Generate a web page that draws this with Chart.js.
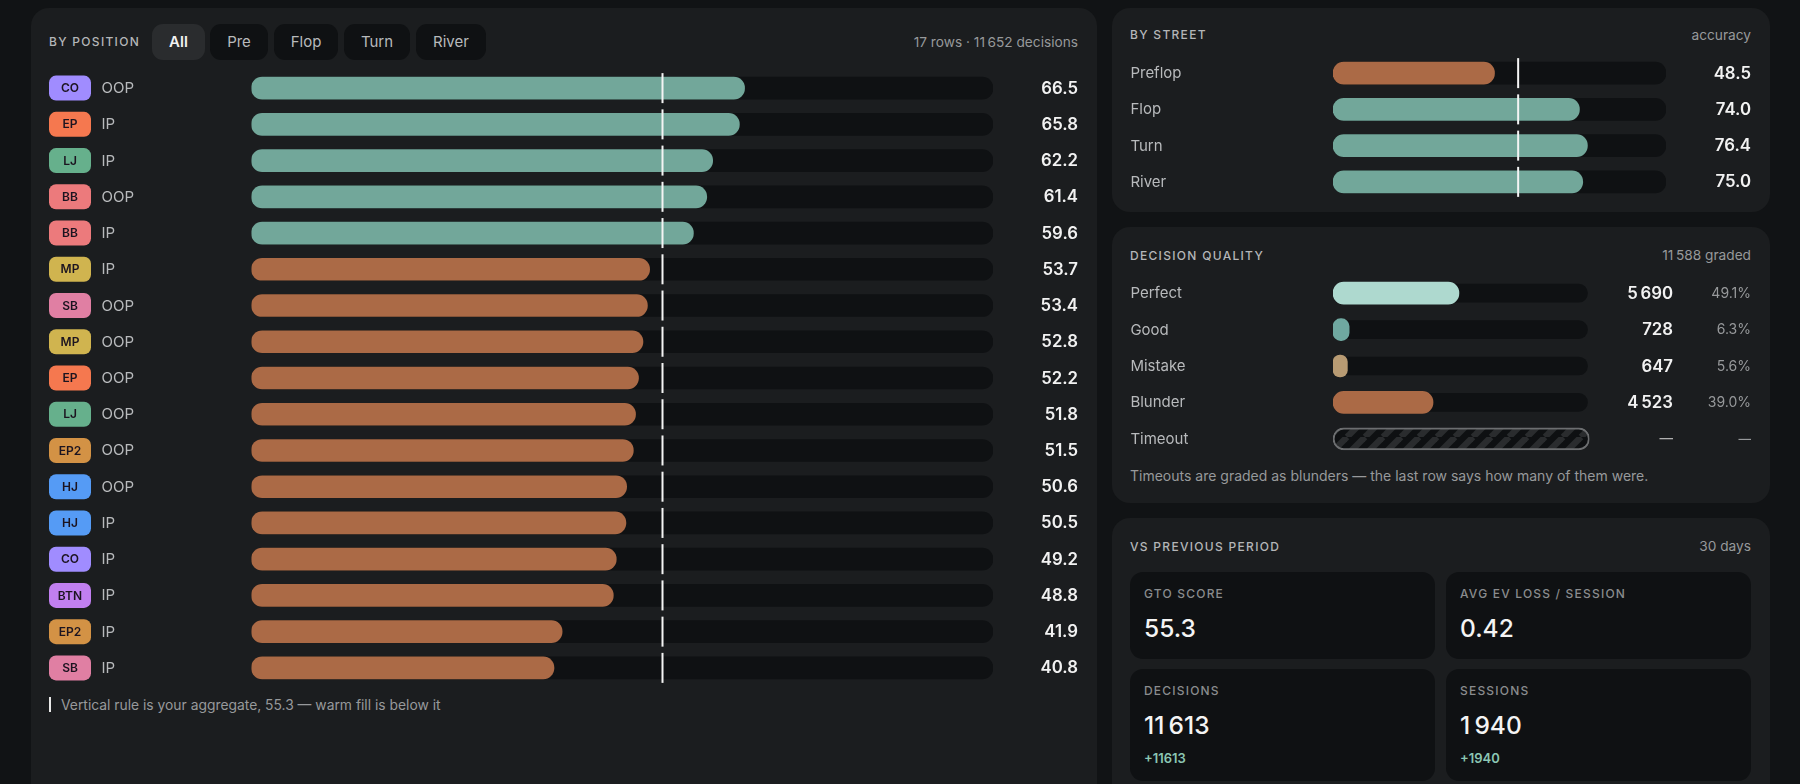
<!DOCTYPE html>
<html>
<head>
<meta charset="utf-8">
<script src="https://cdn.jsdelivr.net/npm/chart.js@4"></script>
<style>
  * { box-sizing: border-box; }
  html, body { margin: 0; width: 1800px; height: 784px; overflow: hidden; background: #111315; font-family: Inter, sans-serif; color: #e8e8e8; }
  .abs { position: absolute; white-space: nowrap; }
  .panel { position: absolute; background: #1b1d1f; border-radius: 18px; }
  .title { font-size: 12px; font-weight: 500; letter-spacing: 1.3px; color: #b4b6b8; line-height: 16px; }
  .meta { font-size: 13.7px; color: #97999b; line-height: 16px; text-align: right; }
  .chip { position: absolute; top: 24px; height: 36px; border-radius: 11px; background: #0f1113; color: #b8babc; font-size: 15px; font-weight: 400; line-height: 36px; text-align: center; }
  .chip.on { background: #2a2c2e; color: #f2f2f2; font-weight: 600; }
  .note { font-size: 13.85px; color: #97999b; line-height: 18px; }
  .card { position: absolute; background: #0f1113; border-radius: 13px; }
  .card .lbl { position: absolute; left: 14px; font-size: 12px; font-weight: 500; letter-spacing: 1.2px; color: #8a8c8e; line-height: 16px; white-space: nowrap; }
  .card .val { position: absolute; left: 14px; font-size: 24.5px; font-weight: 500; color: #f4f4f4; line-height: 32px; white-space: nowrap; }
  .card .delta { position: absolute; left: 14px; font-size: 13px; font-weight: 600; color: #8cc7b4; line-height: 16px; }
  canvas { position: absolute; }
</style>
</head>
<body>
<div class="panel" style="left:31px;top:8px;width:1066px;height:800px"></div>
<div class="panel" style="left:1112px;top:8px;width:658px;height:204px"></div>
<div class="panel" style="left:1112px;top:227px;width:658px;height:276px"></div>
<div class="panel" style="left:1112px;top:518px;width:658px;height:300px"></div>

<div class="abs title" style="left:49px;top:34px">BY POSITION</div>
<div id="chips"></div>
<div class="abs meta" style="right:722px;top:34px">17 rows · 11&#8239;652 decisions</div>
<canvas id="position-chart" style="left:31px;top:70px" width="1066" height="616"></canvas>
<div class="abs" style="left:49px;top:697px;width:2px;height:15px;background:#e8e8e8"></div>
<div class="abs note" style="left:61px;top:696px">Vertical rule is your aggregate, 55.3 — warm fill is below it</div>

<div class="abs title" style="left:1130px;top:27px">BY STREET</div>
<div class="abs meta" style="right:49px;top:27px">accuracy</div>
<canvas id="street-chart" style="left:1113px;top:55px" width="657" height="145"></canvas>

<div class="abs title" style="left:1130px;top:248px">DECISION QUALITY</div>
<div class="abs meta" style="right:49px;top:247px">11&#8239;588 graded</div>
<canvas id="quality-chart" style="left:1113px;top:275px" width="657" height="182"></canvas>
<div class="abs note" style="left:1130px;top:467px;font-size:14px">Timeouts are graded as blunders — the last row says how many of them were.</div>

<div class="abs title" style="left:1130px;top:539px">VS PREVIOUS PERIOD</div>
<div class="abs meta" style="right:49px;top:538px">30 days</div>
<div id="cards"></div>

<script>
const chipLabels = ['All', 'Pre', 'Flop', 'Turn', 'River'];

const positions = ['CO', 'EP', 'LJ', 'BB', 'BB', 'MP', 'SB', 'MP', 'EP', 'LJ', 'EP2', 'HJ', 'HJ', 'CO', 'BTN', 'EP2', 'SB'];
const sides = ['OOP', 'IP', 'IP', 'OOP', 'IP', 'IP', 'OOP', 'OOP', 'OOP', 'OOP', 'OOP', 'OOP', 'IP', 'IP', 'IP', 'IP', 'IP'];
const positionScores = [66.5, 65.8, 62.2, 61.4, 59.6, 53.7, 53.4, 52.8, 52.2, 51.8, 51.5, 50.6, 50.5, 49.2, 48.8, 41.9, 40.8];

const streets = ['Preflop', 'Flop', 'Turn', 'River'];
const streetScores = [48.5, 74.0, 76.4, 75.0];

const qualityLabels = ['Perfect', 'Good', 'Mistake', 'Blunder', 'Timeout'];
const qualityCounts = ['5\u202f690', '728', '647', '4\u202f523', '—'];
const qualityShares = [49.1, 6.3, 5.6, 39.0, null];

const cardLabels = ['GTO SCORE', 'AVG EV LOSS / SESSION', 'DECISIONS', 'SESSIONS'];
const cardValues = ['55.3', '0.42', '11\u202f613', '1\u202f940'];
const cardDeltas = [null, null, '+11613', '+1940'];

const aggregate = 55.3;

const TEAL = '#72a79a';
const WARM = '#ab6a46';
const TRACK = '#0f1113';
const FONT = 'Inter, sans-serif';

const badgeColors = {
  CO: '#a08cff', EP: '#f5784f', LJ: '#66b08c', BB: '#ec7a7c', MP: '#d0b44f',
  SB: '#e07fa3', EP2: '#d39245', HJ: '#559bf5', BTN: '#c17ff0',
};
const qualityColors = ['#aed9cf', '#6fa8a0', '#b89b73', WARM, 'transparent'];

function scoreColor(value) {
  return value < aggregate ? WARM : TEAL;
}

function stripePattern() {
  const tile = document.createElement('canvas');
  tile.width = 18;
  tile.height = 18;
  const ctx = tile.getContext('2d');
  ctx.fillStyle = '#0e1012';
  ctx.fillRect(0, 0, 18, 18);
  ctx.strokeStyle = '#2a2c2e';
  ctx.lineWidth = 6.4;
  for (const shift of [-18, 0, 18]) {
    ctx.beginPath();
    ctx.moveTo(shift, 18);
    ctx.lineTo(shift + 18, 0);
    ctx.stroke();
  }
  return document.createElement('canvas').getContext('2d').createPattern(tile, 'repeat');
}

function roundRect(ctx, x, y, w, h, r) {
  ctx.beginPath();
  ctx.roundRect(x, y, w, h, r);
  ctx.fill();
}

// vertical aggregate tick on every row
const rulePlugin = {
  id: 'rule',
  afterDatasetsDraw(chart, args, opts) {
    if (!opts.show) return;
    const {ctx, scales: {x, y}} = chart;
    const px = x.getPixelForValue(aggregate);
    ctx.fillStyle = '#f4f4f4';
    chart.data.labels.forEach((_, i) => {
      const cy = y.getPixelForValue(i);
      ctx.fillRect(px, cy - 15, 2, 30);
    });
  },
};

// numbers at the right of each row, badges at the left
const rowTextPlugin = {
  id: 'rowText',
  afterDraw(chart, args, opts) {
    const {ctx, scales: {y}} = chart;
    ctx.save();
    ctx.textBaseline = 'middle';
    chart.data.labels.forEach((_, i) => {
      const cy = y.getPixelForValue(i);
      const value = opts.values[i];
      ctx.textAlign = 'right';
      ctx.font = value === '—' ? `500 13.5px ${FONT}` : `600 16.8px ${FONT}`;
      ctx.fillStyle = value === '—' ? '#b0b0b0' : '#f2f2f2';
      ctx.fillText(value, opts.valueX, cy + 0.5);
      if (opts.extras) {
        const extra = opts.extras[i];
        ctx.font = extra === '—' ? `500 12.5px ${FONT}` : `400 14px ${FONT}`;
        ctx.fillStyle = '#97999b';
        ctx.fillText(extra, opts.extraX, cy + 0.5);
      }
      if (opts.badges) {
        const name = opts.badges[i];
        ctx.fillStyle = badgeColors[name];
        roundRect(ctx, 18, cy - 12.5, 42, 25, 7);
        ctx.fillStyle = '#1c1420';
        ctx.textAlign = 'center';
        ctx.font = `600 12px ${FONT}`;
        ctx.fillText(name, 39, cy + 0.5);
      }
    });
    ctx.restore();
  },
};

function createRowChart(id, cfg) {
  return new Chart(document.getElementById(id), {
    type: 'bar',
    data: {
      labels: cfg.labels,
      datasets: [
        {
          data: cfg.data,
          backgroundColor: cfg.colors,
          barThickness: 22,
          borderRadius: 11,
          borderSkipped: false,
          order: 1,
        },
        {
          data: cfg.labels.map(() => 100),
          backgroundColor: cfg.trackColors || TRACK,
          borderColor: cfg.trackBorders || 'transparent',
          borderWidth: cfg.trackBorders ? 2 : 0,
          barThickness: 22,
          borderRadius: 11,
          borderSkipped: false,
          order: 2,
        },
      ],
    },
    options: {
      responsive: false,
      animation: false,
      indexAxis: 'y',
      layout: {padding: {left: cfg.left, right: cfg.right}},
      scales: {
        x: {display: false, min: 0, max: 100},
        y: {
          grid: {display: false, drawTicks: false},
          border: {display: false},
          afterFit: scale => {
            scale.width = cfg.axisWidth;
            scale.paddingTop = 0;
            scale.paddingBottom = 0;
          },
          ticks: {
            crossAlign: 'far',
            padding: 0,
            labelOffset: 0.5,
            color: '#b8babc',
            font: {family: FONT, size: 15},
            callback: cfg.tickLabel,
          },
        },
      },
      datasets: {bar: {grouped: false}},
      plugins: {
        legend: {display: false},
        tooltip: {enabled: false},
        rule: {show: cfg.rule},
        rowText: {values: cfg.values, extras: cfg.extras, valueX: cfg.valueX, extraX: cfg.extraX, badges: cfg.badges},
      },
    },
    plugins: [rulePlugin, rowTextPlugin],
  });
}

function renderChips() {
  const spots = [[152, 53], [210, 58], [274, 64], [344, 66], [416, 70]];
  const holder = document.getElementById('chips');
  chipLabels.forEach((label, i) => {
    const chip = document.createElement('div');
    chip.className = i === 0 ? 'chip on' : 'chip';
    chip.style.left = spots[i][0] + 'px';
    chip.style.width = spots[i][1] + 'px';
    chip.innerText = label;
    holder.appendChild(chip);
  });
}

function renderCards() {
  const boxes = [[1130, 572, 305, 87], [1446, 572, 305, 87], [1130, 669, 305, 112], [1446, 669, 305, 112]];
  const holder = document.getElementById('cards');
  cardLabels.forEach((label, i) => {
    const card = document.createElement('div');
    card.className = 'card';
    const [left, top, width, height] = boxes[i];
    card.style.cssText = `left:${left}px;top:${top}px;width:${width}px;height:${height}px`;
    let html = `<div class="lbl" style="top:14px">${label}</div><div class="val" style="top:40px">${cardValues[i]}</div>`;
    if (cardDeltas[i]) html += `<div class="delta" style="top:81px">${cardDeltas[i]}</div>`;
    card.innerHTML = html;
    holder.appendChild(card);
  });
}

document.addEventListener('DOMContentLoaded', () => {
  renderChips();
  renderCards();

  createRowChart('position-chart', {
    labels: positions.map((p, i) => p + ' ' + sides[i]),
    data: positionScores,
    colors: positionScores.map(scoreColor),
    values: positionScores.map(v => v.toFixed(1)),
    badges: positions,
    tickLabel: (value, index) => sides[index],
    left: 70.5,
    axisWidth: 149.9,
    right: 104,
    valueX: 1047,
    rule: true,
  });

  createRowChart('street-chart', {
    labels: streets,
    data: streetScores,
    colors: streetScores.map(scoreColor),
    values: streetScores.map(v => v.toFixed(1)),
    tickLabel: (value, index) => streets[index],
    left: 17.4,
    axisWidth: 202.6,
    right: 104,
    valueX: 638,
    rule: true,
  });

  createRowChart('quality-chart', {
    labels: qualityLabels,
    data: qualityShares,
    colors: qualityColors,
    trackColors: [TRACK, TRACK, TRACK, TRACK, stripePattern()],
    trackBorders: ['transparent', 'transparent', 'transparent', 'transparent', '#6c6e70'],
    values: qualityCounts,
    extras: qualityShares.map(v => (v === null ? '—' : v.toFixed(1) + '%')),
    tickLabel: (value, index) => qualityLabels[index],
    left: 17.4,
    axisWidth: 202.6,
    right: 180.5,
    valueX: 560,
    extraX: 638,
    rule: false,
  });
});
</script>
</body>
</html>
